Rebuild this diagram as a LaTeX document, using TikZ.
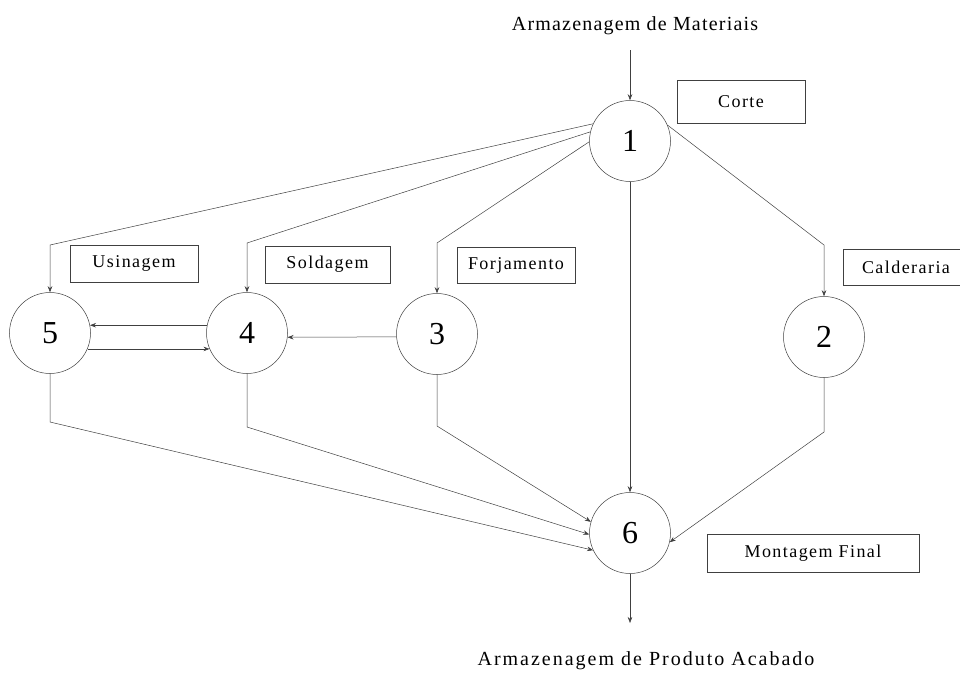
\documentclass[tikz,border=0pt]{standalone}
\usepackage{fontspec}
\setmainfont{Liberation Serif}
\newfontfamily\tagfamily[LetterSpace=8]{Liberation Serif}
\newfontfamily\titlefamily[LetterSpace=6]{Liberation Serif}
\newfontfamily\widetitlefamily[LetterSpace=10]{Liberation Serif}
\usetikzlibrary{arrows.meta}
\definecolor{linec}{gray}{0.25}
\begin{document}
\begin{tikzpicture}[x=1pt,y=-1pt,
  stn/.style={circle, draw=linec, line width=0.5pt, minimum size=81pt, inner sep=0pt,
              font=\fontsize{32}{32}\selectfont},
  tagbox/.style={draw=linec, line width=0.5pt, inner sep=0pt,
                 font=\tagfamily\fontsize{18}{20}\selectfont},
  title/.style={anchor=base, inner sep=0pt, font=\titlefamily\fontsize{20}{22}\selectfont},
  flow/.style={draw=linec, line width=0.5pt, -{Stealth[length=6pt,width=4.5pt]}}]
\useasboundingbox (0,0) rectangle (960,672);

% stations
\node[stn] (n1) at (630,141) {1};
\node[stn] (n2) at (824,337) {2};
\node[stn] (n3) at (437,334) {3};
\node[stn] (n4) at (247,333) {4};
\node[stn] (n5) at (50,333) {5};
\node[stn] (n6) at (630,533) {6};

% labels of the stations
\node[tagbox, minimum width=128pt, minimum height=43pt] (tcorte) at (741,101.5) {Corte};
\node[tagbox, minimum width=128pt, minimum height=37pt] (tusin) at (134,263.5) {Usinagem};
\node[tagbox, minimum width=125pt, minimum height=37pt] (tsold) at (327.5,264.5) {Soldagem};
\node[tagbox, minimum width=118pt, minimum height=36pt] (tforj) at (516,265) {Forjamento};
\node[tagbox, minimum width=126pt, minimum height=36pt] (tcald) at (906,267) {Calderaria};
\node[tagbox, minimum width=212pt, minimum height=38pt] (tmont) at (813,553) {Montagem Final};

% input and output storage
\node[title] (mat) at (635,30) {Armazenagem de Materiais};
\node[title, font=\widetitlefamily\fontsize{20}{22}\selectfont] (prod) at (646,665)
  {Armazenagem de Produto Acabado};
\coordinate (in) at (630,50);
\coordinate (out) at (630,623);

% corners of the routed connectors
\coordinate (c5) at (50,245);
\coordinate (c4) at (247,243);
\coordinate (c3) at (437,243);
\coordinate (c2) at (824,245);
\coordinate (d5) at (50,422);
\coordinate (d4) at (247,427);
\coordinate (d3) at (437,426);
\coordinate (d2) at (824,432);

% material flow
\draw[flow] (in) -- (n1);
\draw[flow] (n1.155) -- (c5) -- (n5);
\draw[flow] (n1.167) -- (c4) -- (n4);
\draw[flow] (n1.181) -- (c3) -- (n3);
\draw[flow] (n1.23) -- (c2) -- (n2);
\draw[flow] (n1) -- (n6);
\draw[flow] (n4.169) -- (n5.11.5);
\draw[flow] (n5.-23.6) -- (n4.203);
\draw[flow] (n3.184) -- (n4.354);
\draw[flow] (n5) -- (d5) -- (n6.205);
\draw[flow] (n4) -- (d4) -- (n6.182);
\draw[flow] (n3) -- (d3) -- (n6.164);
\draw[flow] (n2) -- (d2) -- (n6.-13);
\draw[flow] (n6) -- (out);
\end{tikzpicture}
\end{document}
